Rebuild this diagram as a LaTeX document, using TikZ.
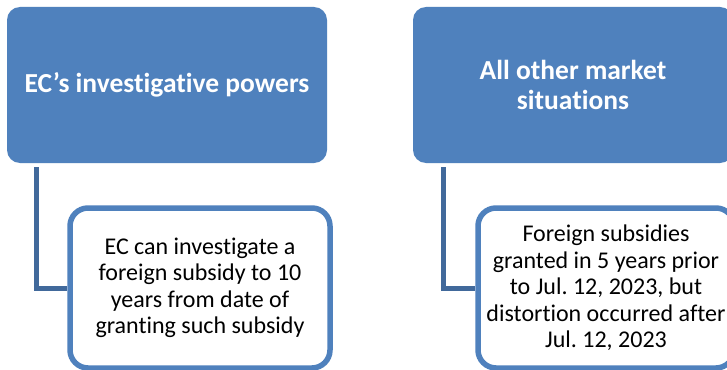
\documentclass[tikz,border=0pt]{standalone}
\usepackage{fontspec}
\setmainfont{Carlito}[Ligatures={NoCommon}]
\frenchspacing
\usetikzlibrary{backgrounds}
\definecolor{accent}{HTML}{4F81BD}
\definecolor{linkblue}{HTML}{41699B}
\tikzset{
  headbox/.style={draw=none, fill=accent, rounded corners=13pt,
    minimum width=320pt, minimum height=156pt, inner sep=0pt,
    text=white, align=center,
    font=\fontsize{27.5}{30}\selectfont\bfseries},
  leafbox/.style={draw=accent, fill=white, line width=5.5pt, rounded corners=18pt,
    minimum height=160pt, inner sep=0pt, align=center, text=black,
    font=\fontsize{24}{26.5}\selectfont},
  link/.style={draw=linkblue, line width=5pt}
}
\begin{document}
\begin{tikzpicture}[x=1pt, y=-1pt]
  \useasboundingbox (0,0) rectangle (727,369);
  \clip (0,0) rectangle (727,369);

  % top-level headings
  \node[headbox] (powers) at (167,85) {EC’s investigative powers};
  \node[headbox] (other) at (573,85) {All other market\\situations};

  % child boxes
  \node[leafbox, minimum width=260pt] (powersleaf) at (200,288)
    {EC can investigate a\\foreign subsidy to 10\\years from date of\\granting such subsidy};
  \node[leafbox, minimum width=256pt] (otherleaf) at (606,288)
    {Foreign subsidies\\granted in 5 years prior\\to Jul. 12, 2023, but\\distortion occurred after\\Jul. 12, 2023};

  % elbow connectors behind the boxes
  \begin{pgfonlayer}{background}
    \fill[white] (0,0) rectangle (727,369);
    \draw[link] ([xshift=30pt, yshift=-4pt]powers.south west) |- (powersleaf.west);
    \draw[link] ([xshift=31pt, yshift=-4pt]other.south west) |- (otherleaf.west);
  \end{pgfonlayer}
\end{tikzpicture}
\end{document}
